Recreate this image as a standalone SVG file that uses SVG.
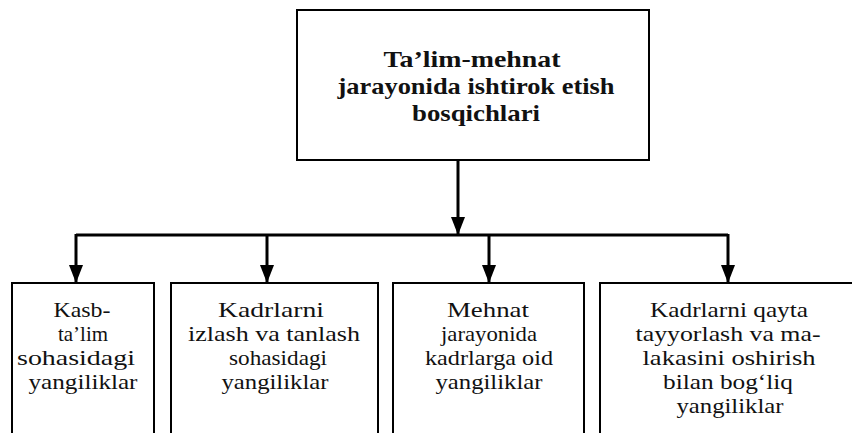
<svg xmlns="http://www.w3.org/2000/svg" width="852" height="433" viewBox="0 0 852 433">
  <defs>
    <marker id="arr" markerUnits="userSpaceOnUse" markerWidth="18" markerHeight="14" refX="18" refY="7" orient="auto" viewBox="0 0 18 14">
      <path d="M0,0 L18,7 L0,14 Z" fill="#000"/>
    </marker>
    <style>
      .box { fill: #fff; stroke: #000; stroke-width: 2; }
      .conn { fill: none; stroke: #000; stroke-width: 3; }
      .down { fill: none; stroke: #000; stroke-width: 3; marker-end: url(#arr); }
      .t { font-family: 'Liberation Serif', 'Times New Roman', Tinos, serif; font-size: 21.5px; fill: #111; text-anchor: middle; }
      .title { font-family: 'Liberation Serif', 'Times New Roman', Tinos, serif; font-size: 24px; font-weight: bold; fill: #111; text-anchor: middle; }
    </style>
  </defs>
  <rect width="852" height="433" fill="#fff"/>

  <g id="connectors">
    <line class="down" x1="458" y1="160" x2="458" y2="235"/>
    <line class="conn" x1="76" y1="235" x2="728" y2="235"/>
    <line class="down" x1="76" y1="234" x2="76" y2="283"/>
    <line class="down" x1="267" y1="235" x2="267" y2="283"/>
    <line class="down" x1="489" y1="235" x2="489" y2="283"/>
    <line class="down" x1="728" y1="234" x2="728" y2="283"/>
  </g>

  <g id="root">
    <rect class="box" x="297" y="10" width="352" height="150"/>
    <text class="title" lengthAdjust="spacingAndGlyphs"><tspan x="472" y="67" textLength="177" lengthAdjust="spacingAndGlyphs">Ta’lim-mehnat</tspan><tspan x="476" y="94" textLength="277" lengthAdjust="spacingAndGlyphs">jarayonida ishtirok etish</tspan><tspan x="476" y="121" textLength="128" lengthAdjust="spacingAndGlyphs">bosqichlari</tspan></text>
  </g>

  <g id="n1">
    <rect class="box" x="12" y="283" width="142" height="170"/>
    <text class="t"><tspan x="82" y="317" textLength="57" lengthAdjust="spacingAndGlyphs">Kasb-</tspan><tspan x="83" y="341" textLength="50" lengthAdjust="spacingAndGlyphs">ta’lim</tspan><tspan x="76" y="365" textLength="118" lengthAdjust="spacingAndGlyphs">sohasidagi</tspan><tspan x="83" y="389" textLength="109" lengthAdjust="spacingAndGlyphs">yangiliklar</tspan></text>
  </g>

  <g id="n2">
    <rect class="box" x="171" y="283" width="207" height="170"/>
    <text class="t"><tspan x="271" y="317" textLength="106" lengthAdjust="spacingAndGlyphs">Kadrlarni</tspan><tspan x="274" y="341" textLength="172" lengthAdjust="spacingAndGlyphs">izlash va tanlash</tspan><tspan x="278" y="365" textLength="98" lengthAdjust="spacingAndGlyphs">sohasidagi</tspan><tspan x="275" y="389" textLength="107" lengthAdjust="spacingAndGlyphs">yangiliklar</tspan></text>
  </g>

  <g id="n3">
    <rect class="box" x="393" y="283" width="191" height="170"/>
    <text class="t"><tspan x="488" y="317" textLength="82" lengthAdjust="spacingAndGlyphs">Mehnat</tspan><tspan x="489" y="341" textLength="96" lengthAdjust="spacingAndGlyphs">jarayonida</tspan><tspan x="489" y="365" textLength="128" lengthAdjust="spacingAndGlyphs">kadrlarga oid</tspan><tspan x="489" y="389" textLength="107" lengthAdjust="spacingAndGlyphs">yangiliklar</tspan></text>
  </g>

  <g id="n4">
    <rect class="box" x="600" y="283" width="280" height="170"/>
    <text class="t"><tspan x="729" y="317" textLength="158" lengthAdjust="spacingAndGlyphs">Kadrlarni qayta</tspan><tspan x="728" y="341" textLength="185" lengthAdjust="spacingAndGlyphs">tayyorlash va ma-</tspan><tspan x="729" y="365" textLength="173" lengthAdjust="spacingAndGlyphs">lakasini  oshirish</tspan><tspan x="728" y="389" textLength="130" lengthAdjust="spacingAndGlyphs">bilan  bog‘liq</tspan><tspan x="730" y="413" textLength="107" lengthAdjust="spacingAndGlyphs">yangiliklar</tspan></text>
  </g>
</svg>
